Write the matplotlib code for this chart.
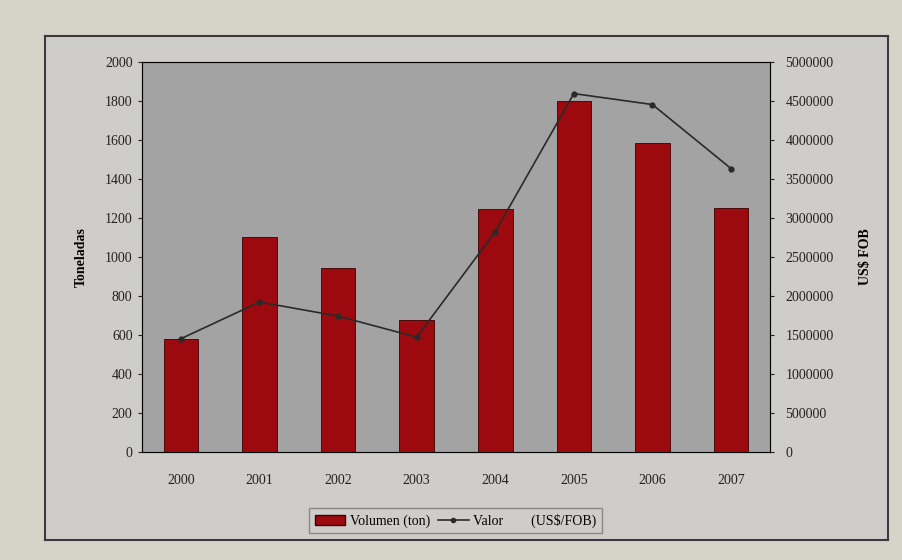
import numpy as np
import matplotlib.pyplot as plt
from matplotlib.patches import Rectangle
from matplotlib.lines import Line2D

# data
years = ["2000", "2001", "2002", "2003", "2004", "2005", "2006", "2007"]
volumen = [580, 1100, 940, 675, 1245, 1800, 1585, 1250]
valor = [1450000, 1920000, 1740000, 1470000, 2820000, 4590000, 4450000, 3630000]

plt.rcParams['font.family'] = ['Liberation Serif', 'DejaVu Serif']

fig = plt.figure(figsize=(9.02, 5.60), dpi=100)
fig.patch.set_facecolor("#d6d4c8")

# inner chart frame, drawn in a background axes
bg = fig.add_axes([0.05, 0.035, 0.935, 0.9], zorder=-5)
bg.set_facecolor("#cfcdca")
bg.set_xticks([])
bg.set_yticks([])
for s in bg.spines.values():
    s.set_color("#3a3a40")
    s.set_linewidth(1.5)

ax = fig.add_axes([0.157, 0.193, 0.697, 0.697])
ax.set_facecolor("#a3a3a3")
x = np.arange(len(years))
bars = ax.bar(x, volumen, width=0.44, color="#9c0a10", edgecolor="#3a0000", lw=0.6, zorder=2)
ax.set_ylim(0, 2000)
ax.set_xlim(-0.5, len(years) - 0.5)
ax.set_yticks(range(0, 2001, 200))
ax.set_xticks(x)
ax.set_xticklabels(years)
ax.set_ylabel("Toneladas", fontweight="bold", fontsize=10, labelpad=12)
ax.tick_params(labelsize=10, colors="#222222", length=3)
ax.tick_params(axis="x", pad=16, length=0)
for s in ax.spines.values():
    s.set_color("#555555")

ax2 = ax.twinx()
ax2.plot(x, valor, color="#2a2a2a", lw=1.2, marker="o", ms=3.5, zorder=3)
ax2.set_ylim(0, 5000000)
ax2.set_yticks(range(0, 5000001, 500000))
ax2.set_yticklabels([str(v) for v in range(0, 5000001, 500000)])
ax2.set_ylabel("US$ FOB", fontweight="bold", fontsize=10, labelpad=18)
ax2.tick_params(labelsize=10, colors="#222222", length=3, pad=8)

handles = [Rectangle((0, 0), 1, 1, facecolor="#9c0a10", edgecolor="#3a0000"),
           Line2D([], [], color="#2a2a2a", marker="o", ms=3, lw=1.2)]
leg = fig.legend(handles, ["Volumen (ton)", "Valor        (US$/FOB)"], loc="center",
                 bbox_to_anchor=(0.505, 0.07), ncol=2, frameon=True, fontsize=10,
                 handlelength=2.2, columnspacing=0.6, handletextpad=0.3,
                 fancybox=False, edgecolor="#777777")
leg.get_frame().set_facecolor("#d0cecb")

fig.savefig("out.png", dpi=100, facecolor=fig.get_facecolor())
